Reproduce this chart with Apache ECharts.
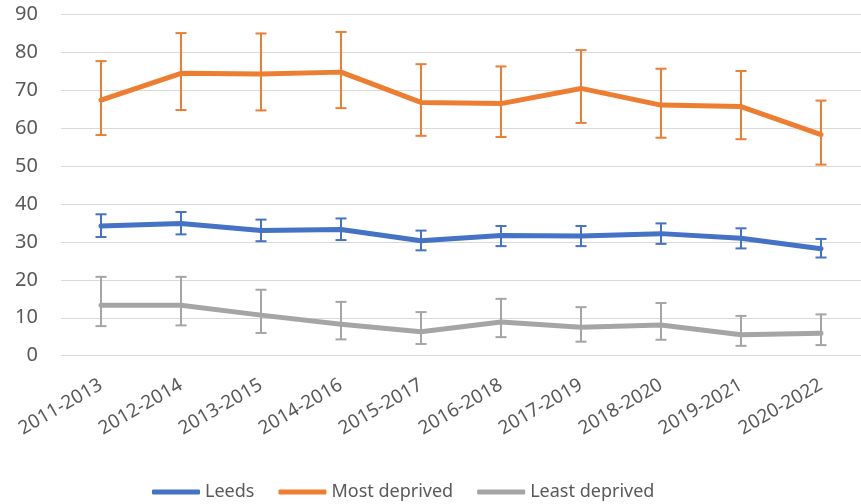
<!doctype html>
<html lang="en">
<head>
    <meta charset="utf-8">
    <title>chart</title>
    <script src="https://cdn.jsdelivr.net/npm/echarts@6/dist/echarts.min.js"></script>
    <style>
        html, body {margin: 0; padding: 0; background: #fff;}
        #main {width: 861px; height: 504px;}
    </style>
</head>
<body>
<div id="main"></div>
<script>
    const categories = ['2011-2013', '2012-2014', '2013-2015', '2014-2016', '2015-2017',
        '2016-2018', '2017-2019', '2018-2020', '2019-2021', '2020-2022'];
    const yTicks = [0, 10, 20, 30, 40, 50, 60, 70, 80, 90];

    // Leeds
    const leeds = [34.2, 34.9, 33.0, 33.3, 30.3, 31.7, 31.6, 32.2, 31.0, 28.2];
    const leedsLow = [31.3, 32.0, 30.2, 30.5, 27.8, 28.9, 28.9, 29.5, 28.3, 25.9];
    const leedsHigh = [37.3, 37.9, 35.9, 36.2, 33.0, 34.2, 34.2, 34.9, 33.6, 30.8];

    // Most deprived
    const most = [67.4, 74.5, 74.3, 74.8, 66.8, 66.5, 70.5, 66.1, 65.7, 58.3];
    const mostLow = [58.2, 64.8, 64.7, 65.3, 58.0, 57.7, 61.4, 57.5, 57.1, 50.4];
    const mostHigh = [77.7, 85.1, 85.0, 85.4, 76.9, 76.3, 80.6, 75.7, 75.1, 67.3];

    // Least deprived
    const least = [13.3, 13.3, 10.7, 8.3, 6.3, 8.9, 7.5, 8.1, 5.5, 5.9];
    const leastLow = [7.8, 8.0, 6.0, 4.3, 3.1, 4.9, 3.7, 4.2, 2.6, 2.8];
    const leastHigh = [20.8, 20.8, 17.4, 14.2, 11.5, 15.0, 12.8, 13.9, 10.5, 10.9];

    const colors = {leeds: '#4472C4', most: '#ED7D31', least: '#A5A5A5'};
    const font = "'Noto Sans', sans-serif";

    // 误差线：用坐标轴换算位置
    const errorSeries = (low, high, color) => ({
        type: 'custom',
        silent: true,
        z: 3,
        data: low.map((l, i) => [i, l, high[i]]),
        renderItem: function (params, api) {
            const top = api.coord([api.value(0), api.value(2)]);
            const bottom = api.coord([api.value(0), api.value(1)]);
            const half = 5.5;
            const style = {stroke: color, lineWidth: 2, fill: null};
            return {
                type: 'group',
                children: [
                    {type: 'line', shape: {x1: top[0], y1: top[1], x2: bottom[0], y2: bottom[1]}, style: style},
                    {type: 'line', shape: {x1: top[0] - half, y1: top[1], x2: top[0] + half, y2: top[1]}, style: style},
                    {type: 'line', shape: {x1: bottom[0] - half, y1: bottom[1], x2: bottom[0] + half, y2: bottom[1]}, style: style}
                ]
            };
        }
    });

    const lineSeries = (name, data, color) => ({
        name: name,
        type: 'line',
        data: data,
        symbol: 'none',
        z: 2,
        itemStyle: {color: color},
        lineStyle: {color: color, width: 5, cap: 'round', join: 'round'}
    });

    const option = {
        animation: false,
        textStyle: {fontFamily: font},
        grid: {left: 61, right: -4, top: 14.5, bottom: 148.3},
        legend: {
            left: 147,
            top: 478,
            itemWidth: 48,
            itemHeight: 5,
            itemGap: 24,
            icon: 'roundRect',
            textStyle: {fontFamily: font, fontSize: 18, color: '#595959'},
            data: ['Leeds', 'Most deprived', 'Least deprived']
        },
        xAxis: {
            type: 'category',
            data: categories,
            boundaryGap: true,
            axisLine: {show: false},
            axisTick: {show: false},
            axisLabel: {
                interval: 0,
                rotate: 30,
                margin: 28,
                fontSize: 19,
                color: '#595959',
                fontFamily: font
            }
        },
        yAxis: {
            type: 'value',
            min: yTicks[0],
            max: yTicks[yTicks.length - 1],
            interval: 10,
            axisLine: {show: false},
            axisTick: {show: false},
            splitLine: {lineStyle: {color: '#D9D9D9', width: 1}},
            axisLabel: {margin: 23, fontSize: 20, color: '#595959', fontFamily: font}
        },
        series: [
            lineSeries('Leeds', leeds, colors.leeds),
            lineSeries('Most deprived', most, colors.most),
            lineSeries('Least deprived', least, colors.least),
            errorSeries(leedsLow, leedsHigh, colors.leeds),
            errorSeries(mostLow, mostHigh, colors.most),
            errorSeries(leastLow, leastHigh, colors.least)
        ]
    };

    const myChart = echarts.init(document.getElementById('main'));
    myChart.setOption(option);
</script>
</body>
</html>
